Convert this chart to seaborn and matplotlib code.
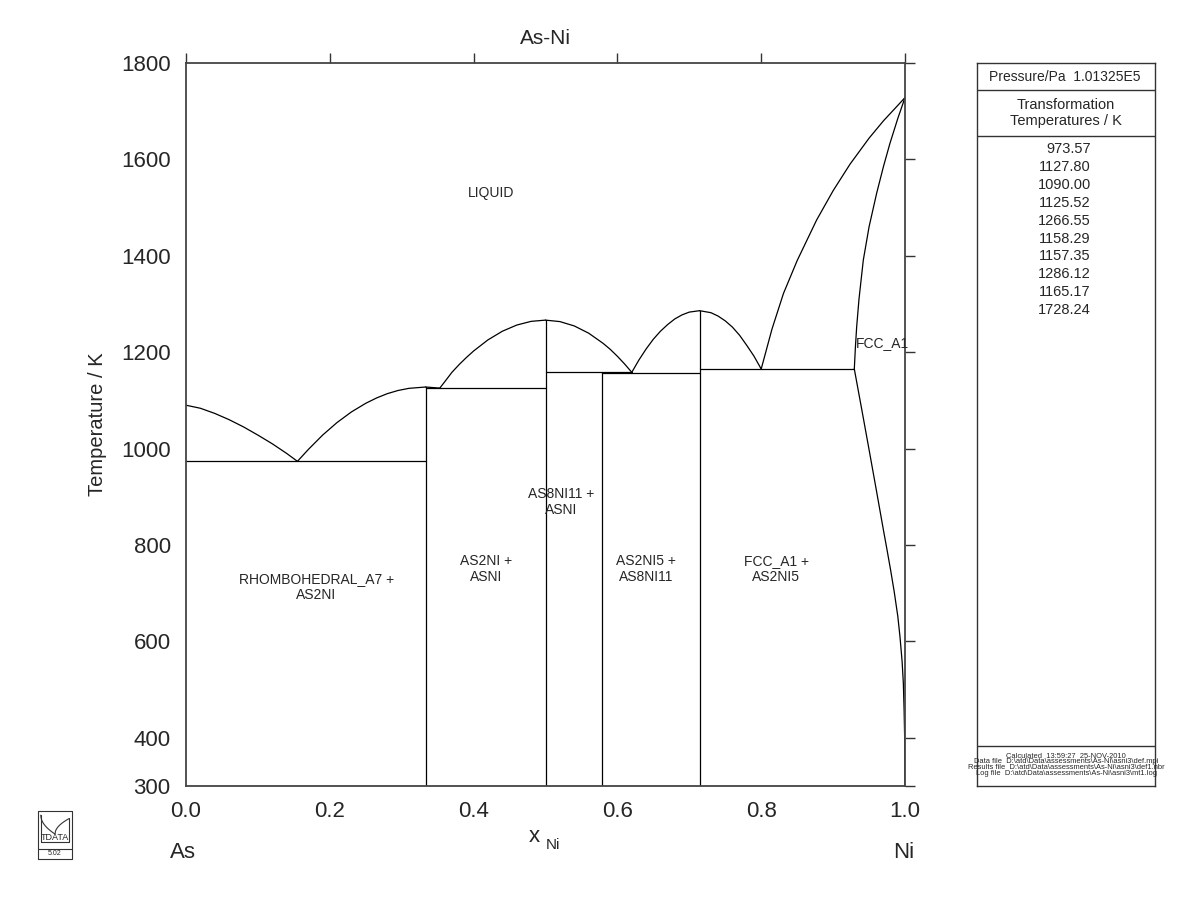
import numpy as np
import pandas as pd
import matplotlib
matplotlib.use("Agg")
import matplotlib.pyplot as plt
import seaborn as sns

# ---------------- data ----------------
inv_temps = [973.57, 1127.80, 1090.00, 1125.52, 1266.55, 1158.29,
             1157.35, 1286.12, 1165.17, 1728.24]

liq_as_x = [0.0, 0.02, 0.04, 0.06, 0.08, 0.10, 0.12, 0.14, 0.155]
liq_as_t = [1090.0, 1083.7, 1073, 1060, 1045, 1028, 1010, 990, 973.57]

liq_as2ni_l_x = [0.155, 0.17, 0.19, 0.21, 0.23, 0.25, 0.265, 0.28, 0.295, 0.31, 0.3333]
liq_as2ni_l_t = [973.57, 998, 1028, 1054, 1076, 1094, 1105, 1114, 1120.6, 1125, 1127.80]

liq_as2ni_r_x = [0.3333, 0.353]
liq_as2ni_r_t = [1127.80, 1125.52]

liq_asni_l_x = [0.353, 0.36, 0.37, 0.38, 0.39, 0.40, 0.42, 0.44, 0.46, 0.48, 0.5]
liq_asni_l_t = [1125.52, 1139, 1158.5, 1174.5, 1189, 1202.5, 1225.6, 1243.5, 1256.3, 1264, 1266.55]

liq_asni_r_x = [0.5, 0.52, 0.54, 0.56, 0.58, 0.59, 0.60, 0.61, 0.62]
liq_asni_r_t = [1266.55, 1263.5, 1254.5, 1239.5, 1218.5, 1206, 1191.5, 1175.6, 1158.29]

liq_as2ni5_l_x = [0.62, 0.63, 0.64, 0.65, 0.66, 0.67, 0.68, 0.69, 0.70, 0.7143]
liq_as2ni5_l_t = [1158.29, 1184, 1206.8, 1227, 1243.7, 1257.5, 1269.2, 1277.5, 1283.2, 1286.12]

liq_as2ni5_r_x = [0.7143, 0.73, 0.74, 0.75, 0.76, 0.77, 0.78, 0.79, 0.80]
liq_as2ni5_r_t = [1286.12, 1282, 1275, 1265, 1252, 1235, 1214, 1191.7, 1165.17]

liq_ni_x = [0.80, 0.815, 0.831, 0.85, 0.877, 0.90, 0.9235, 0.95, 0.970, 0.985, 1.0]
liq_ni_t = [1165.17, 1248, 1322, 1390, 1474, 1535, 1590, 1644, 1680, 1704, 1728.24]

sol_ni_x = [0.9295, 0.931, 0.9328, 0.936, 0.942, 0.95, 0.9606, 0.97, 0.979, 0.99, 1.0]
sol_ni_t = [1165.17, 1210, 1253, 1310, 1391, 1460, 1530, 1585, 1633, 1685, 1728.24]

solvus_x = [0.9295, 0.94, 0.95, 0.96, 0.97, 0.975, 0.98, 0.985, 0.99, 0.993,
            0.996, 0.9977, 0.9988, 0.9995, 0.99985, 1.0]
solvus_t = [1165.17, 1080, 998, 915, 831, 790, 748, 703, 652, 610,
            558, 513, 455, 402, 350, 300]

vert_x = [1/3, 0.5, 11/19, 5/7]
vert_top = [1127.80, 1266.55, 1158.29, 1286.12]

horiz_t = [973.57, 1125.52, 1158.29, 1157.35, 1165.17]
horiz_x0 = [0.0, 1/3, 0.5, 11/19, 5/7]
horiz_x1 = [1/3, 0.5, 0.62, 5/7, 0.9295]

labels = ["LIQUID", "RHOMBOHEDRAL_A7 +\nAS2NI", "AS2NI +\nASNI", "AS8NI11 +\nASNI",
          "AS2NI5 +\nAS8NI11", "FCC_A1 +\nAS2NI5"]
label_x = [0.424, 0.181, 0.417, 0.5216, 0.640, 0.8206]
label_t = [1530, 713, 750, 889, 750, 750]

yticks = [300, 400, 600, 800, 1000, 1200, 1400, 1600, 1800]
xticks = [0.0, 0.2, 0.4, 0.6, 0.8, 1.0]

# ---------------- build long table ----------------
rows = []
seg = 0
curves = [(liq_as_x, liq_as_t), (liq_as2ni_l_x, liq_as2ni_l_t), (liq_as2ni_r_x, liq_as2ni_r_t),
          (liq_asni_l_x, liq_asni_l_t), (liq_asni_r_x, liq_asni_r_t),
          (liq_as2ni5_l_x, liq_as2ni5_l_t), (liq_as2ni5_r_x, liq_as2ni5_r_t),
          (liq_ni_x, liq_ni_t), (sol_ni_x, sol_ni_t), (solvus_x, solvus_t)]
for xs, ts in curves:
    for x, t in zip(xs, ts):
        rows.append((seg, x, t))
    seg += 1
for x, t in zip(vert_x, vert_top):
    rows.append((seg, x, 300)); rows.append((seg, x, t)); seg += 1
for t, a, b in zip(horiz_t, horiz_x0, horiz_x1):
    rows.append((seg, a, t)); rows.append((seg, b, t)); seg += 1
df = pd.DataFrame(rows, columns=["seg", "x", "T"])

# ---------------- plot ----------------
sns.set_theme(style="white")
plt.rcParams['font.family'] = ['Liberation Sans', 'DejaVu Sans']

fig = plt.figure(figsize=(12, 9.23), dpi=100)
ax = fig.add_axes([186/1200, 1-786/923, (905-186)/1200, (786-63)/923])

sns.lineplot(data=df, x="x", y="T", units="seg", estimator=None, sort=False,
             color="black", linewidth=0.9, ax=ax, legend=False)

ax.set_xlim(0, 1)
ax.set_ylim(300, 1800)
ax.set_xticks(xticks)
ax.set_xticklabels([f"{v:.1f}" for v in xticks])
ax.set_yticks(yticks)
ax.set_yticklabels([str(v) for v in yticks])
ax.tick_params(axis="both", which="both", direction="out", length=7, width=1,
               color="#333333", labelsize=16, top=True, right=True,
               labeltop=False, labelright=False, pad=4)
for s in ax.spines.values():
    s.set_color("#444444")
    s.set_linewidth(1.3)
ax.set_xlabel("")
ax.set_ylabel("Temperature / K", fontsize=14.5, labelpad=10)
ax.set_title("As-Ni", fontsize=15, pad=14)

for lab, x, t in zip(labels, label_x, label_t):
    ax.text(x, t, lab, ha="center", va="center", fontsize=10, linespacing=1.15)
ax.text(0.931, 1219, "FCC_A1", ha="left", va="center", fontsize=10)

# x label with subscript and element names
fig.text(534/1200, 1-836/923, "x", fontsize=16, ha="center", va="center")
fig.text(553/1200, 1-845/923, "Ni", fontsize=11, ha="center", va="center")
fig.text(170/1200, 1-853/923, "As", fontsize=16, ha="left", va="center")
fig.text(914/1200, 1-853/923, "Ni", fontsize=16, ha="right", va="center")

# ---------------- side panel ----------------
pax = fig.add_axes([977/1200, 1-786/923, (1155-977)/1200, (786-63)/923])
pax.set_xlim(0, 1); pax.set_ylim(0, 1)
pax.set_xticks([]); pax.set_yticks([])
for s in pax.spines.values():
    s.set_color("#333333"); s.set_linewidth(1.0)
for yy in [(786-90)/723, (786-136)/723, (786-746)/723]:
    pax.axhline(yy, color="#333333", linewidth=1.0)
pax.text(0.494, (786-77)/723, "Pressure/Pa  1.01325E5", ha="center", va="center", fontsize=10)
pax.text(0.5, (786-113)/723, "Transformation\nTemperatures / K", ha="center", va="center",
         fontsize=10.5, linespacing=1.1)
for i, t in enumerate(inv_temps):
    py = 149.3 + i * 17.86
    pax.text((1091-977)/178, (786-py)/723, f"{t:.2f}", ha="right", va="center", fontsize=10.5)
foot = ["Calculated  13:59:27  25-NOV-2010",
        "Data file  D:\\atd\\Data\\assessments\\As-Ni\\asni3\\def.mpi",
        "Results file  D:\\atd\\Data\\assessments\\As-Ni\\asni3\\def1.nbr",
        "Log file  D:\\atd\\Data\\assessments\\As-Ni\\asni3\\mt1.log"]
for i, line in enumerate(foot):
    py = 756 + i * 5.8
    pax.text(0.5, (786-py)/723, line, ha="center", va="center", fontsize=5.4, clip_on=False)

# ---------------- logo ----------------
lax = fig.add_axes([37/1200, 1-860/923, 36/1200, 50/923])
lax.set_xlim(-0.03, 1.03); lax.set_ylim(-0.03, 1.03); lax.axis("off")
kw = dict(color="#333333", lw=0.8, clip_on=False)
lax.plot([0, 1, 1, 0, 0], [0, 0, 1, 1, 0], **kw)
lax.plot([0, 1], [0.2, 0.2], **kw)
lax.plot([0.08, 0.92], [0.36, 0.36], **kw)
lax.plot([0.08, 0.08], [0.36, 0.92], **kw)
lax.plot([0.92, 0.92], [0.36, 0.85], **kw)
tt = np.linspace(0, 1, 30)
lax.plot(0.08 + 0.42 * tt, 0.92 - 0.4 * np.sqrt(tt), **kw)
lax.plot(0.5 + 0.42 * tt, 0.52 + 0.33 * np.sqrt(tt), **kw)
lax.text(0.5, 0.44, "TDATA", ha="center", va="center", fontsize=6.5)
lax.text(0.5, 0.1, "5.02", ha="center", va="center", fontsize=5)

fig.savefig("out.png", dpi=100)
